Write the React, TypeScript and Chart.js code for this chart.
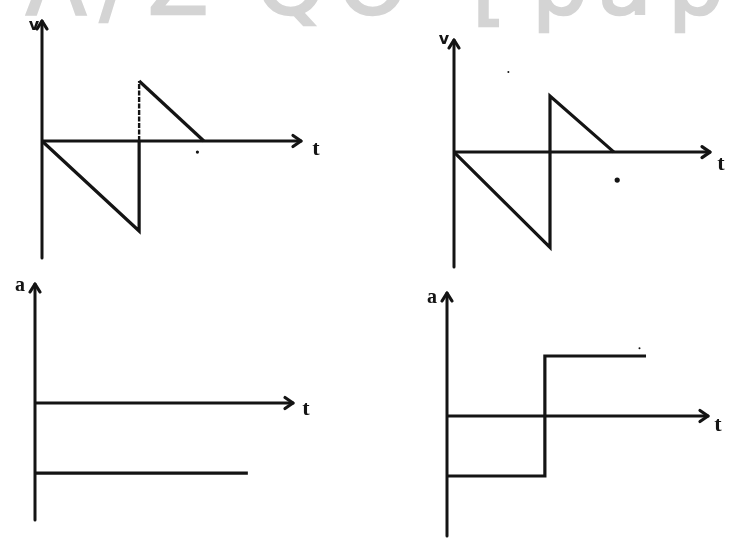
import React, { useEffect, useRef } from "react";
import { Chart, registerables } from "chart.js";

Chart.register(...registerables);

// ---- data -------------------------------------------------------------
// Top-left: velocity against time (drop to -3, jump up to 2, back to 0)
const v1Time = [0, 3, 3, 3, 5];
const v1Vel = [0, -3, 0, 2, 0];
const v1DashedSegments = [2]; // the part of the jump above the t axis

// Top-right: velocity against time
const v2Time = [0, 3, 3, 5];
const v2Vel = [0, -3.4, 2, 0];

// Bottom-left: constant negative acceleration
const a1Time = [0, 6.6];
const a1Acc = [-1, -1];

// Bottom-right: acceleration switching from -1 to +1
const a2Time = [0, 3, 3, 6.1];
const a2Acc = [-1, -1, 1, 1];

// small ink specks near the curves
const speck1Time = [4.8];
const speck1Val = [-0.37];
const speck2Time = [5.1, 1.7];
const speck2Val = [-1.0, 2.86];
const speck4Time = [5.9];
const speck4Val = [1.13];

// axis labels
const velLabel = "v";
const accLabel = "a";
const timeLabel = "t";
const bannerGlyphs = ["A", "/", "Z", "Q", "O", "[", "p", "a", "p"];

// ---- styling / layout ---------------------------------------------------
const INK = "#141414";
const PAD = { left: 30, right: 30, top: 22, bottom: 14 };

type Series = { x: number[]; y: number[]; dashed?: number[] };
type Specks = { x: number[]; y: number[]; r: number[] };

type PanelSpec = {
  left: number;
  top: number;
  width: number;
  height: number;
  xMax: number;
  yMin: number;
  yMax: number;
  yLabel: string;
  yLabelFont: string;
  yLabelDx: number;
  yLabelDy: number;
  tLabelDx: number;
  tLabelDy: number;
  series: Series[];
  specks?: Specks;
};

const zip = (xs: number[], ys: number[]) => xs.map((x, i) => ({ x, y: ys[i] }));

const panels: PanelSpec[] = [
  {
    left: 42, top: 21, width: 259, height: 237,
    xMax: 8, yMin: -3.9, yMax: 4,
    yLabel: velLabel, yLabelFont: "bold 16px 'DejaVu Sans'", yLabelDx: -8, yLabelDy: 5,
    tLabelDx: 15, tLabelDy: 8,
    series: [{ x: v1Time, y: v1Vel, dashed: v1DashedSegments }],
    specks: { x: speck1Time, y: speck1Val, r: [1.6] },
  },
  {
    left: 454, top: 40, width: 256, height: 227,
    xMax: 8, yMin: -4.1, yMax: 4,
    yLabel: velLabel, yLabelFont: "bold 16px 'DejaVu Sans'", yLabelDx: -10, yLabelDy: 0,
    tLabelDx: 11, tLabelDy: 12,
    series: [{ x: v2Time, y: v2Vel }],
    specks: { x: speck2Time, y: speck2Val, r: [2.6, 1] },
  },
  {
    left: 35, top: 284, width: 258, height: 236,
    xMax: 8, yMin: -1.67, yMax: 1.7,
    yLabel: accLabel, yLabelFont: "bold 20px 'Liberation Serif'", yLabelDx: -15, yLabelDy: 2,
    tLabelDx: 13, tLabelDy: 6,
    series: [{ x: a1Time, y: a1Acc }],
  },
  {
    left: 447, top: 293, width: 261, height: 243,
    xMax: 8, yMin: -2, yMax: 2.05,
    yLabel: accLabel, yLabelFont: "bold 20px 'Liberation Serif'", yLabelDx: -15, yLabelDy: 5,
    tLabelDx: 10, tLabelDy: 9,
    series: [{ x: a2Time, y: a2Acc }],
    specks: { x: speck4Time, y: speck4Val, r: [1] },
  },
];

// Draws the two axes through the origin with open arrowheads and their letters.
const arrowAxes = {
  id: "arrowAxes",
  beforeDatasetsDraw(chart: any, _args: any, opts: any) {
    const { ctx } = chart;
    const xs = chart.scales.x;
    const ys = chart.scales.y;
    const x0 = xs.getPixelForValue(0);
    const y0 = ys.getPixelForValue(0);
    const top = ys.getPixelForValue(ys.max);
    const bottom = ys.getPixelForValue(ys.min);
    const right = xs.getPixelForValue(xs.max);

    ctx.save();
    ctx.strokeStyle = INK;
    ctx.lineWidth = 3;
    ctx.lineCap = "round";
    ctx.lineJoin = "round";
    ctx.beginPath();
    ctx.moveTo(x0, bottom);
    ctx.lineTo(x0, top);
    ctx.moveTo(x0, y0);
    ctx.lineTo(right, y0);
    ctx.stroke();

    ctx.lineWidth = 3.2;
    ctx.beginPath();
    ctx.moveTo(x0 - 5, top + 8);
    ctx.lineTo(x0, top);
    ctx.lineTo(x0 + 5, top + 8);
    ctx.moveTo(right - 8, y0 - 5.5);
    ctx.lineTo(right, y0);
    ctx.lineTo(right - 8, y0 + 5.5);
    ctx.stroke();

    ctx.fillStyle = INK;
    ctx.textAlign = "center";
    ctx.textBaseline = "middle";
    ctx.font = opts.yLabelFont;
    ctx.fillText(opts.yLabel, x0 + opts.yLabelDx, top + opts.yLabelDy);
    ctx.font = "bold 22px 'Liberation Serif'";
    ctx.fillText(timeLabel, right + opts.tLabelDx, y0 + opts.tLabelDy);
    ctx.restore();
  },
};

function Panel({ spec }: { spec: PanelSpec }) {
  const ref = useRef<HTMLCanvasElement | null>(null);

  useEffect(() => {
    if (!ref.current) return;
    const datasets: any[] = spec.series.map((s) => ({
      data: zip(s.x, s.y),
      showLine: true,
      borderColor: INK,
      borderWidth: 3.2,
      pointRadius: 0,
      clip: false,
      segment: {
        borderDash: (c: any) => (s.dashed && s.dashed.includes(c.p0DataIndex) ? [5, 1.5] : undefined),
        borderWidth: (c: any) => (s.dashed && s.dashed.includes(c.p0DataIndex) ? 2.4 : undefined),
      },
    }));
    if (spec.specks) {
      datasets.push({
        data: zip(spec.specks.x, spec.specks.y),
        showLine: false,
        pointRadius: spec.specks.r,
        pointBackgroundColor: INK,
        pointBorderWidth: 0,
        clip: false,
      });
    }
    const chart = new Chart(ref.current, {
      type: "scatter",
      data: { datasets },
      options: {
        animation: false,
        responsive: false,
        maintainAspectRatio: false,
        events: [],
        layout: { padding: PAD },
        scales: {
          x: { type: "linear", min: 0, max: spec.xMax, display: false },
          y: { type: "linear", min: spec.yMin, max: spec.yMax, display: false },
        },
        plugins: {
          legend: { display: false },
          tooltip: { enabled: false },
          arrowAxes: {
            yLabel: spec.yLabel,
            yLabelFont: spec.yLabelFont,
            yLabelDx: spec.yLabelDx,
            yLabelDy: spec.yLabelDy,
            tLabelDx: spec.tLabelDx,
            tLabelDy: spec.tLabelDy,
          },
        } as any,
      },
      plugins: [arrowAxes],
    });
    return () => chart.destroy();
  }, [spec]);

  const w = spec.width + PAD.left + PAD.right;
  const h = spec.height + PAD.top + PAD.bottom;
  return (
    <canvas
      ref={ref}
      width={w}
      height={h}
      style={{
        position: "absolute",
        left: spec.left - PAD.left,
        top: spec.top - PAD.top,
        width: w,
        height: h,
      }}
    />
  );
}

const glyphX = [26, 100, 148, 256, 338, 472, 532, 598, 668];

export default function App() {
  useEffect(() => {
    document.body.style.margin = "0";
  }, []);
  return (
    <div
      style={{
        position: "fixed",
        left: 0,
        top: 0,
        width: 731,
        height: 541,
        background: "#ffffff",
        overflow: "hidden",
      }}
    >
      <svg width={731} height={541} style={{ position: "absolute", left: 0, top: 0 }}>
        <text
          x={glyphX.join(" ")}
          y={14}
          fill="#d4d4d4"
          stroke="#d4d4d4"
          strokeWidth={2.5}
          fontFamily="'DejaVu Sans', sans-serif"
          fontSize={88}
        >
          {bannerGlyphs.join("")}
        </text>
      </svg>
      {panels.map((p, i) => (
        <Panel key={i} spec={p} />
      ))}
    </div>
  );
}
